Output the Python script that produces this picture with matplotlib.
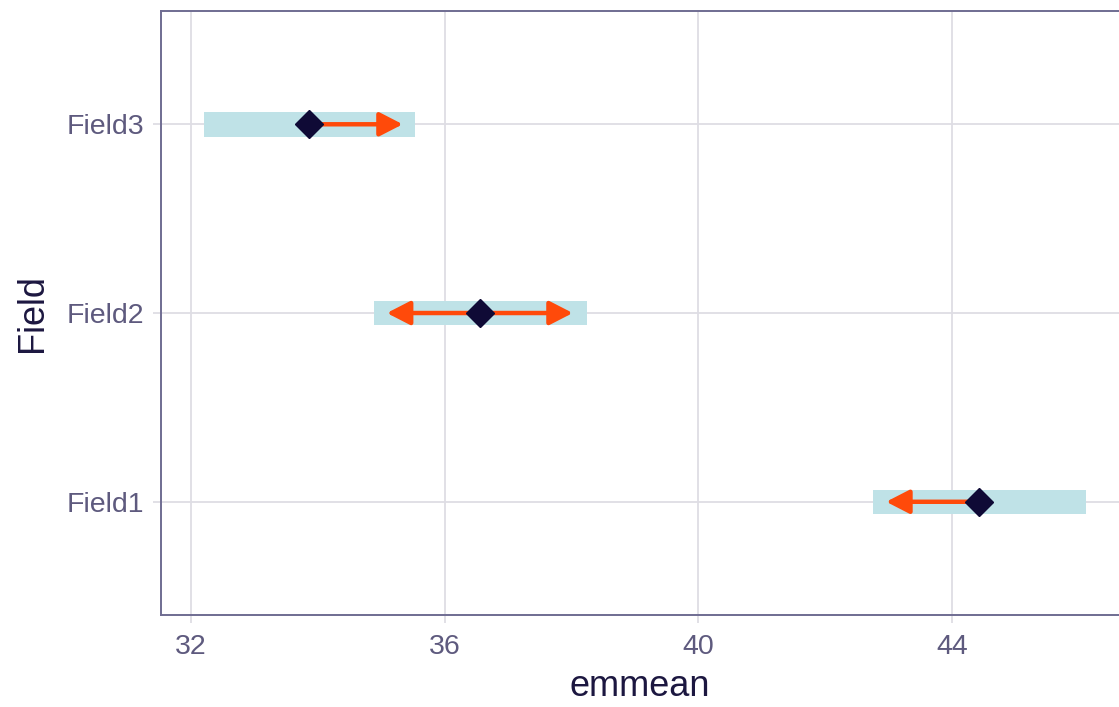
import numpy as np
import matplotlib
matplotlib.use("Agg")
import matplotlib.pyplot as plt

# emmeans with confidence intervals and comparison arrows
fields = ["Field1", "Field2", "Field3"]
emmean = [44.43, 36.56, 33.87]
lower_cl = [42.76, 34.88, 32.20]
upper_cl = [46.11, 38.24, 35.54]
arrow_lo = [42.96, 35.09, None]
arrow_hi = [None, 38.02, 35.34]

plt.rcParams['font.family'] = ['Liberation Sans', 'DejaVu Sans']

tick_col = "#5e5a7e"
title_col = "#1c1740"
spine_col = "#6f6c92"
grid_col = "#dedde4"

fig = plt.figure(figsize=(11.19, 7.07), dpi=100)
ax = fig.add_axes([0.1439, 0.1301, 0.8561, 0.8543])

y = np.arange(1, len(fields) + 1)
widths = [u - l for l, u in zip(lower_cl, upper_cl)]
ax.barh(y, widths, left=lower_cl, height=0.13, color="#bfe2e7", zorder=2)

for i in range(len(fields)):
    for tip in (arrow_lo[i], arrow_hi[i]):
        if tip is None:
            continue
        ax.annotate("", xy=(tip, y[i]), xytext=(emmean[i], y[i]),
                    arrowprops=dict(arrowstyle="-|>,head_length=0.7,head_width=0.36",
                                    mutation_scale=20, lw=3.2, color="#ff4a0a",
                                    shrinkA=0, shrinkB=0), zorder=3)

ax.plot(emmean, y, linestyle="none", marker="D", ms=14.5, color="#0f0a36", zorder=4)

ax.set_xlim(31.53, 46.63)
ax.set_ylim(0.4, 3.6)
ax.set_xticks([32, 36, 40, 44])
ax.set_yticks(y)
ax.set_yticklabels(fields)
ax.grid(True, color=grid_col, lw=1.3, zorder=0)
ax.set_axisbelow(True)

for s in ["left", "bottom", "top"]:
    ax.spines[s].set_color(spine_col)
    ax.spines[s].set_linewidth(1.4)
ax.spines["right"].set_visible(False)

ax.tick_params(axis="both", colors=grid_col, length=6, width=1.3,
               labelcolor=tick_col, labelsize=20.5, pad=6)
ax.tick_params(axis="x", pad=8)

ax.set_xlabel("emmean", fontsize=26, color=title_col, labelpad=6)
ax.set_ylabel("Field", fontsize=26, color=title_col, labelpad=12)

fig.savefig("out.png", dpi=100)
